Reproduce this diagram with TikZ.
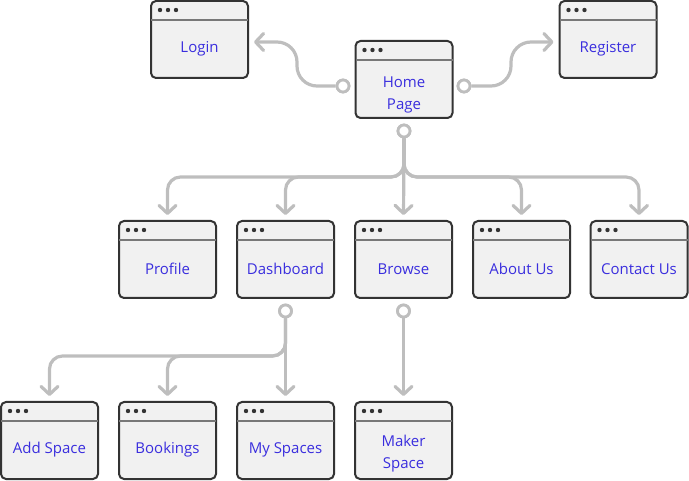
\documentclass[tikz,border=0pt]{standalone}
\usepackage{fontspec}
\setmainfont{Open Sans}
\usetikzlibrary{arrows.meta,calc}
\definecolor{txt}{RGB}{58,46,222}
\definecolor{bord}{RGB}{51,51,51}
\definecolor{boxfill}{RGB}{241,241,241}
\definecolor{barc}{RGB}{120,120,120}
\definecolor{connc}{RGB}{190,190,190}
\tikzset{
  winbox/.style={draw=bord, line width=2pt, fill=boxfill, rounded corners=5pt, minimum width=97pt, minimum height=77pt, inner sep=0pt},
  wtext/.style={text=txt, font=\fontsize{15}{22}\selectfont, align=center},
  conline/.style={draw=connc, line width=3.2pt, -{Straight Barb[length=8pt,width=17pt,round]}, shorten >=5pt},
  startc/.style={circle, draw=connc, line width=2.8pt, fill=white, minimum size=12pt, inner sep=0pt},
}
\newcommand\wbox[5]{%
  \node[winbox] (#1) at (#2,#3) {};
  \draw[barc, line width=2.5pt] ($(#1.north west)+(1,20)$) -- ($(#1.north east)+(-1,20)$);
  \foreach \i in {0,1,2} \fill[bord] ($(#1.north west)+(10+8*\i,10)$) circle (2.2pt);
  \node[wtext] (#1t) at ($(#1.center)+(0,#5)$) {#4};
}
\begin{document}
\begin{tikzpicture}[x=1pt,y=-1pt]
\useasboundingbox (0,0) rectangle (689,481);
\wbox{login}{199.5}{39.5}{Login}{9.5}
\wbox{register}{608}{39.5}{Register}{9.5}
\wbox{home}{404}{79.5}{Home\\Page}{15}
\wbox{profile}{167.5}{259.5}{Profile}{9.5}
\wbox{dashboard}{285.5}{259.5}{Dashboard}{9.5}
\wbox{browse}{403.5}{259.5}{Browse}{9.5}
\wbox{about}{521.5}{259.5}{About Us}{9.5}
\wbox{contact}{639}{259.5}{Contact Us}{9.5}
\wbox{addspace}{49.5}{440.5}{Add Space}{9.5}
\wbox{bookings}{167.5}{440.5}{Bookings}{9.5}
\wbox{myspaces}{285.5}{440.5}{My Spaces}{9.5}
\wbox{maker}{403.5}{440.5}{Maker\\Space}{13}

\coordinate (lm) at (297,42);
\coordinate (rm) at (511,42);
\node[startc] (hl) at (343,86) {};
\node[startc] (hr) at (464,86) {};
\node[startc] (hb) at (404,131) {};
\node[startc] (db) at (285.5,311) {};
\node[startc] (bb) at (403.5,311) {};

\draw[conline, rounded corners=20pt] (hl.west) -| (lm) -- ($(login.east)+(0,2.5)$);
\draw[conline, rounded corners=20pt] (hr.east) -| (rm) -- ($(register.west)+(0,2.5)$);

\draw[conline, rounded corners=13pt] (hb.south) |- ([yshift=43pt]profile.north) -- (profile.north);
\draw[conline, rounded corners=13pt] (hb.south) |- ([yshift=43pt]dashboard.north) -- (dashboard.north);
\draw[conline] (hb.south) -- (browse.north);
\draw[conline, rounded corners=13pt] (hb.south) |- ([yshift=43pt]about.north) -- (about.north);
\draw[conline, rounded corners=13pt] (hb.south) |- ([yshift=43pt]contact.north) -- (contact.north);

\draw[conline, rounded corners=13pt] (db.south) |- ([yshift=45pt]addspace.north) -- (addspace.north);
\draw[conline, rounded corners=13pt] (db.south) |- ([yshift=45pt]bookings.north) -- (bookings.north);
\draw[conline] (db.south) -- (myspaces.north);
\draw[conline] (bb.south) -- (maker.north);

\node[startc] at (hl) {};
\node[startc] at (hr) {};
\node[startc] at (hb) {};
\node[startc] at (db) {};
\node[startc] at (bb) {};
\end{tikzpicture}
\end{document}
